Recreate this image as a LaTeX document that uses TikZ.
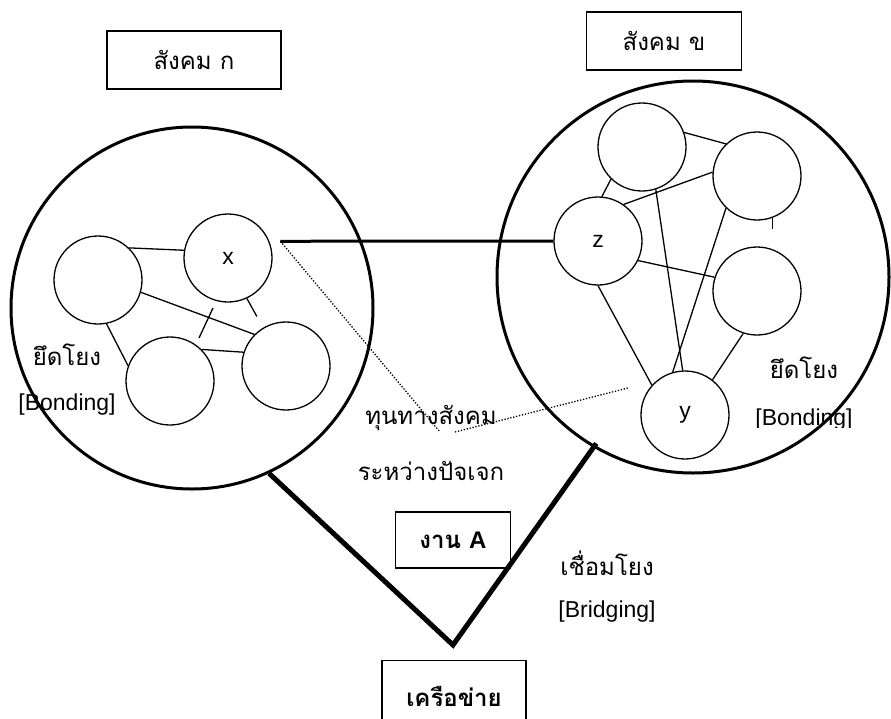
\documentclass[tikz,border=0pt]{standalone}
\usepackage{fontspec}
\setmainfont{Liberation Sans}
\newfontfamily\thaifont[Script=Thai]{Loma}
\begin{document}
\begin{tikzpicture}[x=1pt, y=-1pt,
		main/.style = {draw, circle, line width=1.3pt, minimum size=88pt, inner sep=0pt, font=\fontsize{23}{26}\selectfont},
		ring/.style = {draw, circle, line width=3pt, minimum size=#1, inner sep=0pt},
		tag/.style = {draw, line width=1.3pt, inner sep=0pt, font=\thaifont\fontsize{24}{28}\selectfont},
		thai/.style = {font=\thaifont\fontsize{24}{28}\selectfont},
		eng/.style = {font=\fontsize{23}{26}\selectfont},
		dots/.style = {line width=1.3pt, dash pattern=on 1.3pt off 1.7pt}]
			\useasboundingbox (0,0) rectangle (891,718);
			% the two societies
			\node[ring=362pt] (socA) at (192,308) {};
			\node[ring=392pt] (socB) at (693,277) {};
			\node[tag, minimum width=174pt, minimum height=58pt] (tagA) at (194,60) {สังคม ก};
			\node[tag, minimum width=155pt, minimum height=58pt] (tagB) at (664,41) {สังคม ข};
			% people in society A
			\node[main] (l1) at (98,280) {};
			\node[main] (x) at (228,258) {x};
			\node[main] (l2) at (170,381) {};
			\node[main] (l3) at (286,366) {};
			% people in society B
			\node[main] (r1) at (642,147) {};
			\node[main] (r2) at (757,176) {};
			\node[main] (z) at (598,241) {z};
			\node[main] (r3) at (757,291) {};
			\node[main] (y) at (685,415) {y};
			% bonding ties
			\begin{scope}[line width=1.3pt]
			\draw (l1.46) -- (x.170);
			\draw (l1.-16) -- (l3.135);
			\draw (l1.-79) -- (l2.160);
			\draw (l2.45) -- (l3.162);
			\draw (x.-65) -- ++(10,18);
			\draw ([shift={(-15,50)}]x.center) -- ++(-14,30);
			\draw (r1.19) -- (r2.134);
			\draw (r1.-134) -- (z.85);
			\draw (z.55) -- (r2.175);
			\draw (r1.-72) -- (y.93);
			\draw (r2.-134) -- (y.106);
			\draw (r2.-70) -- ++(0,11);
			\draw (z.-26) -- (r3.162);
			\draw (z.-90) -- (y.138);
			\draw (r3.-108) -- (y.52);
			\end{scope}
			% bridge between x and z
			\draw[line width=3pt] ([xshift=11pt]x.22) -- (z.180);
			\coordinate (capA) at (440,432);
			\coordinate (capB) at (455,432);
			\coordinate (capY) at (628,388);
			\draw[dots] ([xshift=11pt]x.22) -- (capA);
			\draw[dots] (capB) -- (capY);
			% network
			\coordinate (vtx) at (453,645);
			\draw[line width=5pt] (socA.-65) -- (vtx) -- ([shift={(-4,-8)}]socB.-118);
			\node[tag, font=\thaifont\bfseries\fontsize{24}{28}\selectfont, minimum width=115pt, minimum height=56pt] (job) at (453,540) {งาน {\fontspec{Liberation Sans}A}};
			\node[tag, font=\thaifont\bfseries\fontsize{24}{28}\selectfont, minimum width=144pt, minimum height=76pt, anchor=north] (net) at (454,660) {\raisebox{4pt}{เครือข่าย}};
			% labels
			\node[thai] (bondA) at (67,355) {ยึดโยง};
			\node[eng] (bondAen) at (67,405) {[Bonding]};
			\node[thai] (bondB) at (804,368) {ยึดโยง};
			\begin{scope}
			\clip (740,400) rectangle (870,427);
			\node[eng] (bondBen) at (804,420) {[Bonding]};
			\end{scope}
			\node[thai] (bridge) at (607,563) {เชื่อมโยง};
			\node[eng] (bridgeen) at (607,612) {[Bridging]};
			\node[thai] (cap1) at (431,418) {ทุนทางสังคม};
			\node[thai] (cap2) at (431,471) {ระหว่างปัจเจก};
		\end{tikzpicture}
\end{document}
